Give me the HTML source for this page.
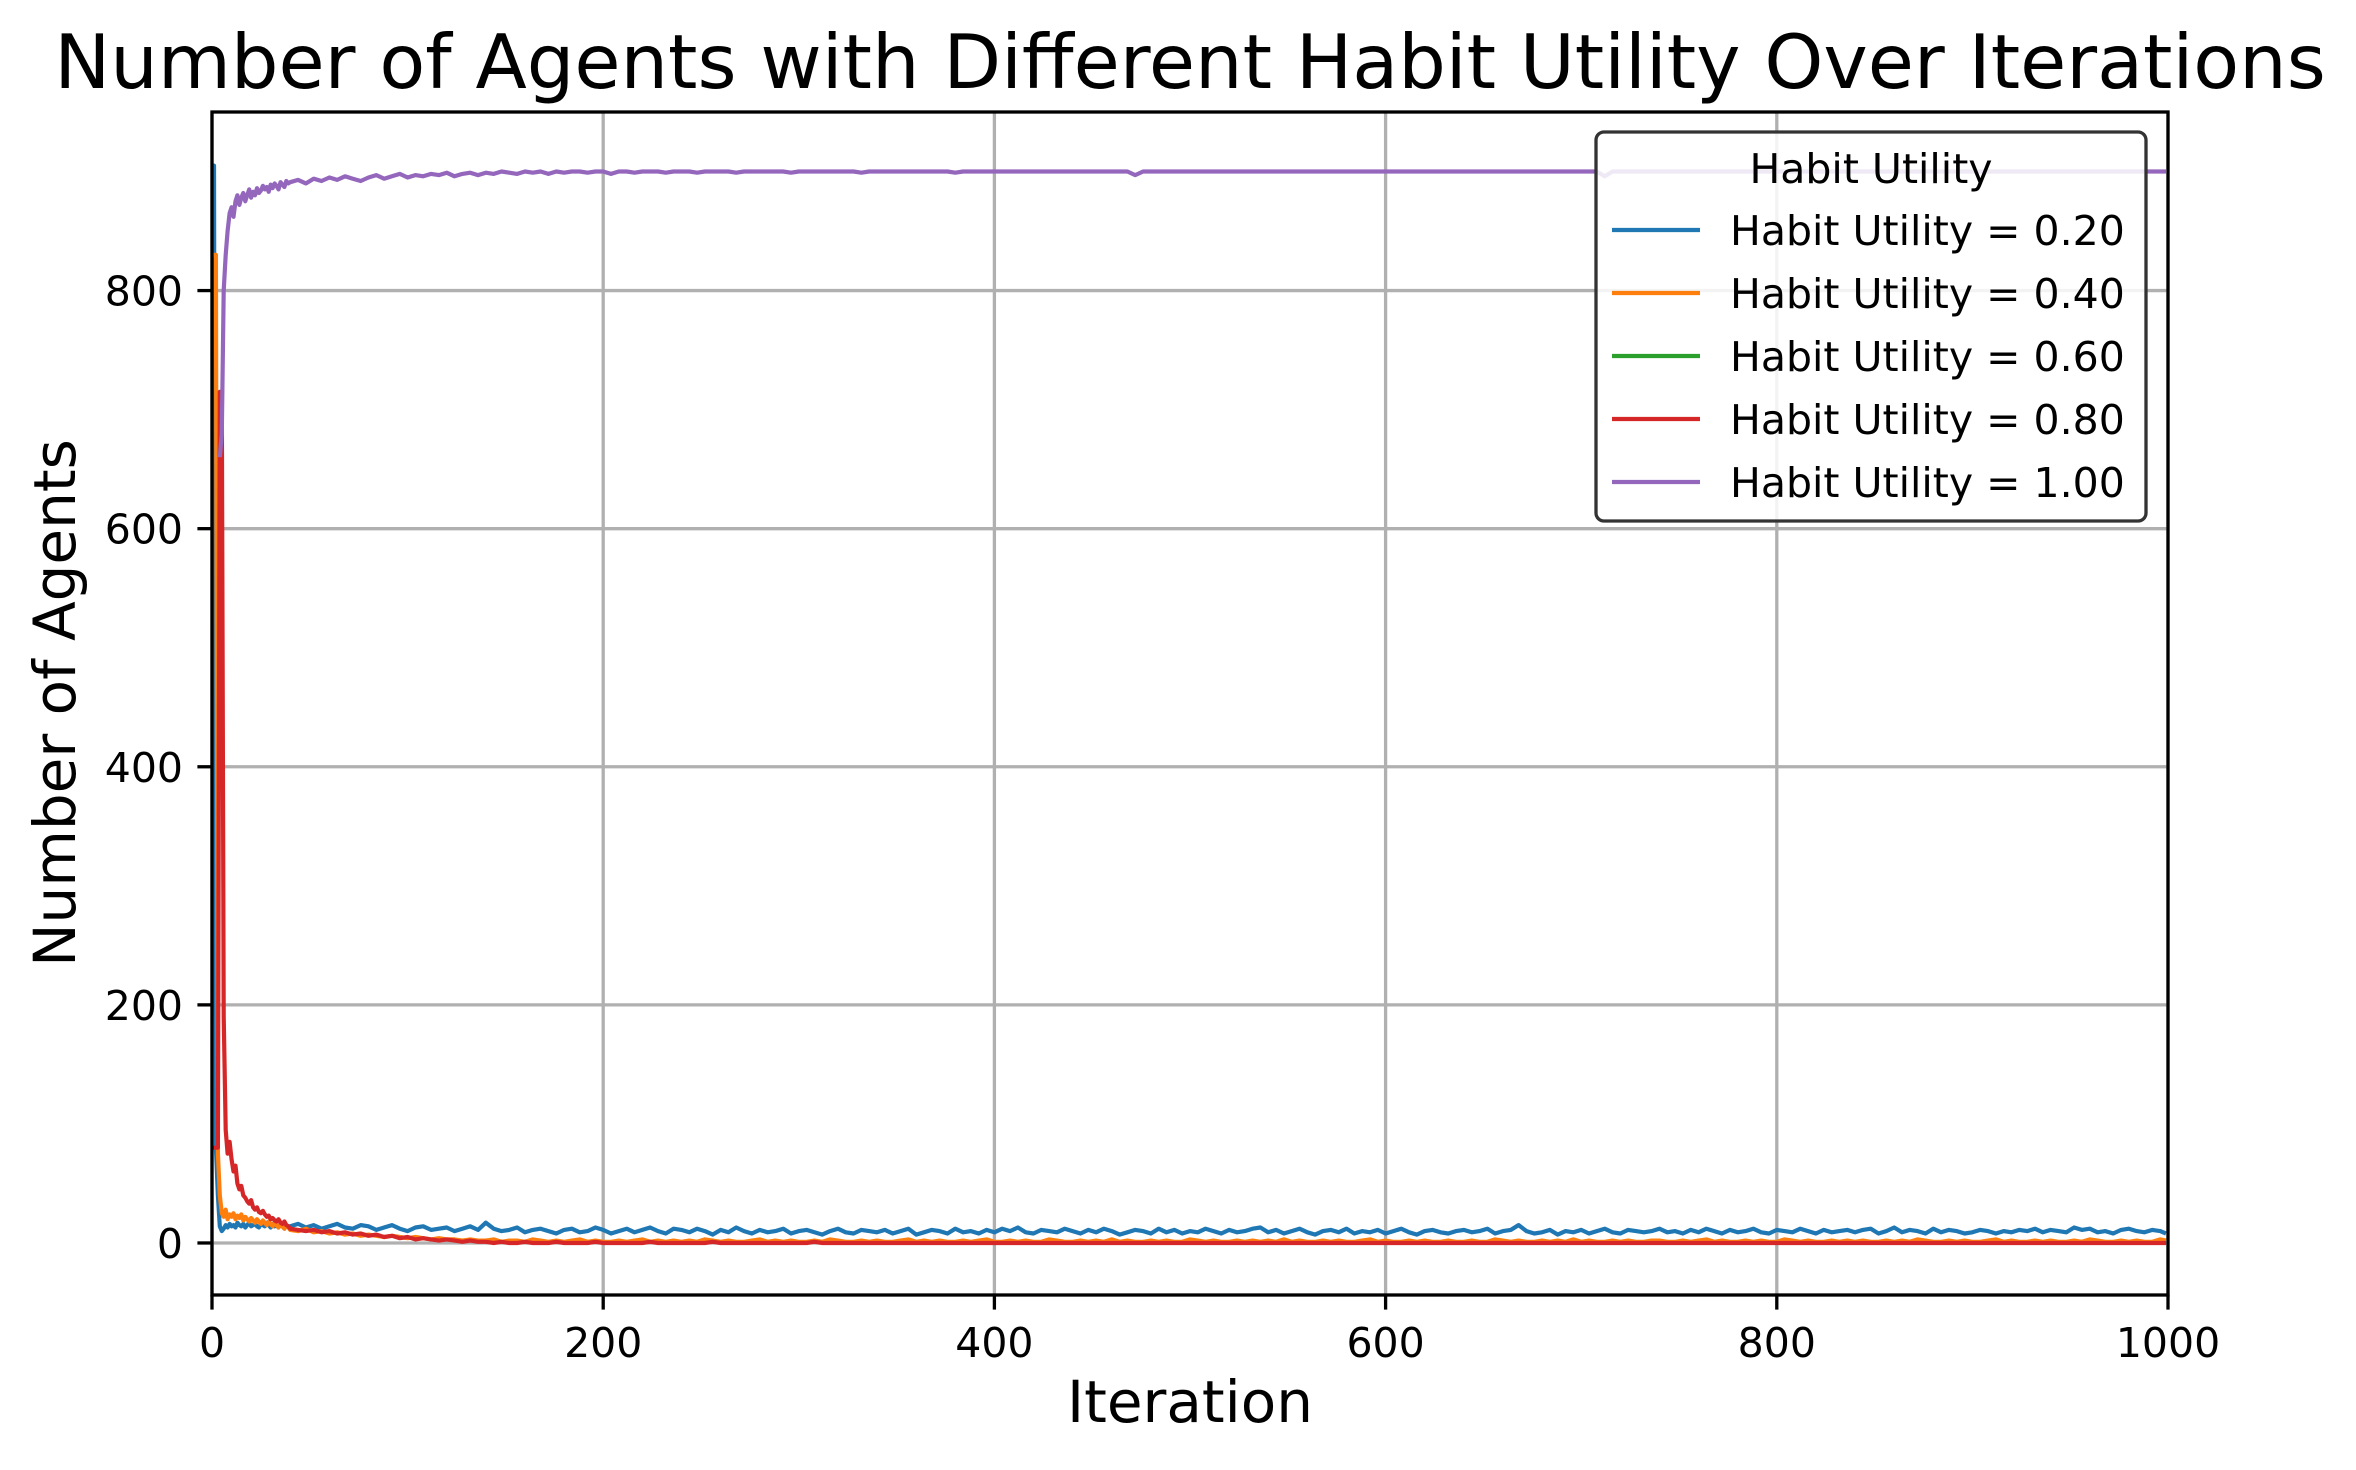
<!DOCTYPE html>
<html><head><meta charset="utf-8"><style>
html,body{margin:0;padding:0;background:#fff;}
svg{display:block;font-family:"DejaVu Sans","Liberation Sans",sans-serif;}
</style></head><body>
<svg id="chart" width="2356" height="1470" viewBox="0 0 2356 1470" xmlns="http://www.w3.org/2000/svg">
<rect x="0" y="0" width="2356" height="1470" fill="#fff"/>
<text x="1190" y="88" font-size="75" text-anchor="middle">Number of Agents with Different Habit Utility Over Iterations</text>
<g id="grid"></g>
<g id="series"></g>
<g id="axes"></g>
<text x="1190" y="1422" font-size="58" text-anchor="middle">Iteration</text>
<text x="75" y="703" font-size="58" text-anchor="middle" transform="rotate(-90 75 703)">Number of Agents</text>
<g id="legend"></g>
</svg>
<script>
// ---- data ----
const xTicks = [0, 200, 400, 600, 800, 1000];
const yTicks = [0, 200, 400, 600, 800];
const seriesLabels = ["Habit Utility = 0.20","Habit Utility = 0.40","Habit Utility = 0.60","Habit Utility = 0.80","Habit Utility = 1.00"];
const seriesColors = ["#1f77b4","#ff7f0e","#2ca02c","#d62728","#9467bd"];
const denseIters = [0,1,2,3,4,5,6,7,8,9,10,11,12,13,14,15,16,17,18,19,20,21,22,23,24,25,26,27,28,29,30,31,32,33,34,35,36,37,38,39];
const purpleDenseIters = [4,5,6,7,8,9,10,11,12,13,14,15,16,17,18,19,20,21,22,23,24,25,26,27,28,29,30,31,32,33,34,35,36,37,38,39];
const sparseIters = [40,44,48,52,56,60,64,68,72,76,80,84,88,92,96,100,104,108,112,116,120,124,128,132,136,
140,144,148,152,156,160,164,168,172,176,180,184,188,192,196,200,204,208,212,216,220,224,228,232,236,
240,244,248,252,256,260,264,268,272,276,280,284,288,292,296,300,304,308,312,316,320,324,328,332,336,
340,344,348,352,356,360,364,368,372,376,380,384,388,392,396,400,404,408,412,416,420,424,428,432,436,
440,444,448,452,456,460,464,468,472,476,480,484,488,492,496,500,504,508,512,516,520,524,528,532,536,
540,544,548,552,556,560,564,568,572,576,580,584,588,592,596,600,604,608,612,616,620,624,628,632,636,
640,644,648,652,656,660,664,668,672,676,680,684,688,692,696,700,704,708,712,716,720,724,728,732,736,
740,744,748,752,756,760,764,768,772,776,780,784,788,792,796,800,804,808,812,816,820,824,828,832,836,
840,844,848,852,856,860,864,868,872,876,880,884,888,892,896,900,904,908,912,916,920,924,928,932,936,
940,944,948,952,956,960,964,968,972,976,980,984,988,992,996,999];
const iterations = denseIters.concat(sparseIters);
const purpleIterations = purpleDenseIters.concat(sparseIters);
const blueValues = [905,905,80,40,14,10,12,15,13,16,14,15,13,17,15,14,16,13,15,17,14,15,16,14,13,16,15,14,17,15,13,16,14,15,13,16,14,12,15,14,
14,16,13,15,12,14,16,13,12,15,14,11,13,15,12,10,13,14,11,12,13,10,12,14,11,
17,12,10,11,13,9,11,12,10,8,11,12,9,10,13,11,8,10,12,9,11,13,10,8,12,
11,9,12,10,7,11,9,13,10,8,11,9,10,12,8,10,11,9,7,10,12,9,8,11,10,
9,11,8,10,12,7,9,11,10,8,12,9,10,8,11,9,12,10,13,9,8,11,10,9,12,
10,8,11,9,12,10,7,9,11,10,8,12,9,11,8,10,9,12,10,8,11,9,10,12,13,
9,11,8,10,12,9,7,10,11,9,12,8,10,9,11,8,10,12,9,7,10,11,9,8,10,
11,9,10,12,8,10,11,15,10,8,9,11,7,10,9,11,8,10,12,9,8,11,10,9,10,
12,9,10,8,11,9,12,10,8,11,9,10,12,9,8,11,10,9,12,10,8,11,9,10,11,
9,11,12,8,10,13,9,11,10,8,12,9,11,10,8,9,11,10,8,10,9,11,10,12,9,
11,10,9,13,11,12,9,10,8,11,12,10,9,11,10,8];
const orangeValues = [830,830,830,75,40,25,22,28,20,24,22,25,20,23,21,24,19,22,20,18,21,19,17,20,18,16,19,17,15,18,16,14,17,15,13,16,14,12,15,13,
11,10,12,9,10,8,9,7,8,6,7,6,5,6,5,4,5,4,3,4,3,3,2,3,2,
2,3,1,2,2,1,3,2,1,2,1,2,3,1,2,1,1,2,1,2,3,1,2,1,2,
1,2,1,3,2,1,2,1,1,2,3,1,2,1,2,1,1,2,1,3,2,1,1,2,1,
2,1,1,2,3,1,2,1,2,1,1,2,1,2,3,1,1,2,1,2,1,1,3,2,1,
1,2,1,2,1,3,1,2,1,1,2,1,2,1,1,3,2,1,2,1,1,2,1,2,1,
2,1,3,1,2,1,1,2,1,2,1,1,2,3,1,2,1,1,2,1,2,1,1,2,1,
1,2,1,1,3,2,1,2,1,1,2,1,2,1,3,1,2,1,1,2,1,2,1,1,2,
2,1,1,2,1,2,3,1,2,1,1,2,1,2,1,1,3,2,1,2,1,1,2,1,2,
1,2,1,1,2,1,2,1,3,2,1,1,2,1,2,1,1,2,3,1,2,1,1,2,1,
2,1,1,2,1,3,2,1,1,2,1,2,1,1,3,2];
const greenIters = [0];
const greenValues = [0];
const redValues = [80,80,80,80,715,715,190,95,75,85,70,60,65,50,45,48,40,38,35,33,36,30,28,30,26,25,27,24,22,23,20,21,19,18,20,17,16,18,15,14,
12,11,10,11,9,10,8,9,7,8,6,7,5,6,4,5,3,4,3,2,3,2,1,2,1,
1,0,1,0,0,1,0,0,0,1,0,0,0,0,1,0,0,0,0,0,0,1,0,0,0,
0,0,0,0,1,0,0,0,0,0,0,0,0,0,0,0,0,1,0,0,0,0,0,0,0,
0,0,0,0,0,0,0,0,0,0,0,0,0,0,0,0,0,0,0,0,0,0,0,0,0,
0,0,0,0,0,0,0,0,0,0,0,0,0,0,0,0,0,0,0,0,0,0,0,0,0,
0,0,0,0,0,0,0,0,0,0,0,0,0,0,0,0,0,0,0,0,0,0,0,0,0,
0,0,0,0,0,0,0,0,0,0,0,0,0,0,0,0,0,0,0,0,0,0,0,0,0,
0,0,0,0,0,0,0,0,0,0,0,0,0,0,0,0,0,0,0,0,0,0,0,0,0,
0,0,0,0,0,0,0,0,0,0,0,0,0,0,0,0,0,0,0,0,0,0,0,0,0,
0,0,0,0,0,0,0,0,0,0,0,0,0,0,0,0];
const purpleValues = [660,680,800,830,850,865,870,862,875,880,872,878,882,875,880,885,878,883,880,886,882,884,888,885,887,883,889,886,890,888,885,891,889,887,892,890,
891,893,890,894,892,895,893,896,894,892,895,897,894,896,898,895,897,896,898,897,899,896,898,899,897,
899,898,900,899,898,900,899,900,898,900,899,900,900,899,900,900,898,900,900,899,900,900,900,899,900,
900,900,899,900,900,900,900,899,900,900,900,900,900,900,899,900,900,900,900,900,900,900,900,899,900,
900,900,900,900,900,900,900,900,900,900,899,900,900,900,900,900,900,900,900,900,900,900,900,900,900,
900,900,900,900,900,900,900,900,897,900,900,900,900,900,900,900,900,900,900,900,900,900,900,900,900,
900,900,900,900,900,900,900,900,900,900,900,900,900,900,900,900,900,900,900,900,900,900,900,900,900,
900,900,900,900,900,900,900,900,900,900,900,900,900,900,900,900,900,900,896,900,900,900,900,900,900,
900,900,900,900,900,900,900,900,900,900,900,900,900,900,900,900,900,900,900,900,900,900,900,900,900,
900,900,900,900,900,900,900,900,900,900,900,900,900,900,900,900,900,900,900,900,900,900,900,900,900,
900,900,900,900,900,900,900,900,900,900,900,900,900,900,900,900];

// ---- layout ----
const L = 212, R = 2168, T = 112, B = 1295;
const xMin = 0, xMax = 1000;
const yMin = -43.7, yMax = 950;
function xs(v){ return L + (v - xMin) / (xMax - xMin) * (R - L); }
function ys(v){ return B - (v - yMin) / (yMax - yMin) * (B - T); }
const NS = "http://www.w3.org/2000/svg";
function mk(tag, attrs, parent){
  const e = document.createElementNS(NS, tag);
  for (const k in attrs) e.setAttribute(k, attrs[k]);
  parent.appendChild(e);
  return e;
}
const grid = document.getElementById('grid');
const axes = document.getElementById('axes');
const series = document.getElementById('series');
const legend = document.getElementById('legend');

xTicks.forEach(function(t){
  const gl = mk('line', {x1: xs(t), x2: xs(t), y1: T, y2: B, stroke: '#b0b0b0', 'stroke-width': 3.3}, grid);
  
  
  const tk = mk('line', {x1: xs(t), x2: xs(t), y1: B, y2: B + 14.6, stroke: '#000', 'stroke-width': 3.3}, axes);
  
  
  const lb = mk('text', {x: xs(t), y: 1357, 'font-size': 41, 'text-anchor': 'middle'}, axes);
  lb.textContent = String(t);
  
  
});
yTicks.forEach(function(t){
  const gl = mk('line', {x1: L, x2: R, y1: ys(t), y2: ys(t), stroke: '#b0b0b0', 'stroke-width': 3.3}, grid);
  
  
  const tk = mk('line', {x1: L - 14.6, x2: L, y1: ys(t), y2: ys(t), stroke: '#000', 'stroke-width': 3.3}, axes);
  
  
  const lb = mk('text', {x: 183, y: ys(t) + 15, 'font-size': 41, 'text-anchor': 'end'}, axes);
  lb.textContent = String(t);
  
  
});
const frame = mk('rect', {x: L, y: T, width: R - L, height: B - T, fill: 'none', stroke: '#000', 'stroke-width': 3.3}, axes);



const allX = [iterations, iterations, greenIters, iterations, purpleIterations];
const allY = [blueValues, orangeValues, greenValues, redValues, purpleValues];
const seriesNames = ['series-habit-0-20','series-habit-0-40','series-habit-0-60','series-habit-0-80','series-habit-1-00'];
for (let s = 0; s < allY.length; s++){
  const xv = allX[s], yv = allY[s];
  let d = '';
  for (let i = 0; i < yv.length && i < xv.length; i++){
    d += (i ? 'L' : 'M') + xs(xv[i]).toFixed(1) + ' ' + ys(yv[i]).toFixed(1);
  }
  const p = mk('path', {d: d, fill: 'none', stroke: seriesColors[s], 'stroke-width': 4.2, 'stroke-linejoin': 'round', 'stroke-linecap': 'butt'}, series);
  
  
}

// legend
const box = mk('rect', {x: 1596, y: 132, width: 550, height: 389, rx: 8, ry: 8, fill: 'rgba(255,255,255,0.85)', stroke: '#333', 'stroke-width': 3.3}, legend);


const lt = mk('text', {x: 1871, y: 183, 'font-size': 41, 'text-anchor': 'middle'}, legend);
lt.textContent = 'Habit Utility';


for (let s = 0; s < seriesLabels.length; s++){
  const cy = 230 + s * 63;
  const ln = mk('line', {x1: 1612, x2: 1700, y1: cy, y2: cy, stroke: seriesColors[s], 'stroke-width': 4.2}, legend);
  
  
  const tx = mk('text', {x: 1730, y: cy + 15, 'font-size': 41}, legend);
  tx.textContent = seriesLabels[s];
  
  
}
</script>
</body></html>
